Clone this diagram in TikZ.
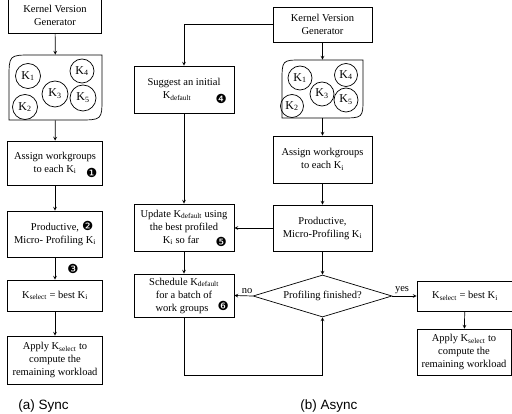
\documentclass[tikz,border=0pt]{standalone}
\usepackage{fontspec}
\setmainfont{Liberation Serif}
\setsansfont{Liberation Sans}
\newfontfamily\dingfont{DejaVu Sans}
\usetikzlibrary{shapes.geometric}

\begin{document}
\begin{tikzpicture}[
            x=1pt, y=-1pt,
            every node/.style={font=\fontsize{10.5}{13}\selectfont, align=center},
            every path/.style={line width=0.7pt},
            box/.style={draw, rectangle, inner sep=1pt},
            kcirc/.style={draw, circle, inner sep=0pt, font=\fontsize{12}{12}\selectfont},
            decide/.style={draw, diamond, aspect=3.3, inner sep=0pt, minimum width=139pt, minimum height=42pt},
            ding/.style={inner sep=0pt, font=\dingfont\fontsize{12.5}{12.5}\selectfont},
            caption/.style={font=\sffamily\fontsize{13.5}{15}\selectfont},
            flow/.style={->, >=stealth}
            ]
            \useasboundingbox (0,0) rectangle (512,414);

            % (a) Sync
            \node[box, minimum width=93pt, minimum height=36pt] (kvgA) at (55,15) {Kernel Version\\Generator};
            \node[minimum width=93pt, minimum height=65pt] (blobA) at (55.5,87.5) {};
            \draw (9,120) -- (9,79) .. controls (9,55) .. (32,55) -- (102,55)
                -- (102,98) .. controls (102,120) .. (78,120) -- cycle;
            \node[kcirc, minimum size=25pt] (ka1) at (28,76) {K\textsubscript{1}};
            \node[kcirc, minimum size=25pt] (ka2) at (25,107) {K\textsubscript{2}};
            \node[kcirc, minimum size=26pt] (ka3) at (55,94) {K\textsubscript{3}};
            \node[kcirc, minimum size=24pt] (ka4) at (82,71) {K\textsubscript{4}};
            \node[kcirc, minimum size=26pt] (ka5) at (83,98) {K\textsubscript{5}};
            \node[box, minimum width=95pt, minimum height=44pt] (assignA) at (55,163) {Assign workgroups\\to each K\textsubscript{i}};
            \node[box, minimum width=95pt, minimum height=46pt] (prodA) at (55,234) {Productive,\\Micro- Profiling K\textsubscript{i}};
            \node[box, minimum width=95pt, minimum height=31pt] (selA) at (55,295.5) {K\textsubscript{select} = best K\textsubscript{i}};
            \node[box, minimum width=95pt, minimum height=48pt] (applyA) at (55,360) {Apply K\textsubscript{select} to\\compute the\\remaining workload};
            \node[ding] (d1) at ([xshift=-11pt,yshift=12pt]assignA.south east) {❶};
            \node[ding] (d2) at ([xshift=-15pt,yshift=-15.5pt]prodA.north east) {❷};
            \node[ding] (d3) at ([xshift=18pt,yshift=-12pt]prodA.south) {❸};
            \node[caption] (capA) at (43.5,406) {(a) Sync};

            \draw[flow] (kvgA) -- (blobA);
            \draw[flow] (blobA) -- (assignA);
            \draw[flow] (assignA) -- (prodA);
            \draw[flow] (prodA) -- (selA);
            \draw[flow] (selA) -- (applyA);

            % (b) Async
            \node[box, minimum width=99pt, minimum height=35pt] (kvgB) at (322.5,24.5) {Kernel Version\\Generator};
            \node[minimum width=81pt, minimum height=58pt] (blobB) at (322.5,89) {};
            \draw (282,118) -- (282,82) .. controls (282,60) .. (302,60) -- (363,60)
                -- (363,98) .. controls (363,118) .. (341,118) -- cycle;
            \node[kcirc, minimum size=24pt] (kb1) at (300,78) {K\textsubscript{1}};
            \node[kcirc, minimum size=23pt] (kb2) at (292,106) {K\textsubscript{2}};
            \node[kcirc, minimum size=24pt] (kb3) at (322,94) {K\textsubscript{3}};
            \node[kcirc, minimum size=23pt] (kb4) at (346,75) {K\textsubscript{4}};
            \node[kcirc, minimum size=24pt] (kb5) at (346,100) {K\textsubscript{5}};
            \node[box, minimum width=99pt, minimum height=47pt] (assignB) at (322.5,159.5) {Assign workgroups\\to each K\textsubscript{i}};
            \node[box, minimum width=99pt, minimum height=46pt] (prodB) at (322.5,228) {Productive,\\Micro-Profiling K\textsubscript{i}};
            \node[decide] (done) at (322.5,296) {Profiling finished?};
            \node[box, minimum width=100pt, minimum height=47pt] (suggest) at (184,89.5) {Suggest an initial\\K\textsubscript{default}\hspace*{14pt}};
            \node[box, minimum width=100pt, minimum height=47pt] (update) at (184,227.5) {Update K\textsubscript{default} using\\the best profiled\\K\textsubscript{i} so far\hspace*{6pt}};
            \node[box, minimum width=100pt, minimum height=43pt] (sched) at (184,295.5) {Schedule K\textsubscript{default}\\for a batch of\\work groups\hspace*{4pt}};
            \node[box, minimum width=96pt, minimum height=30pt] (selB) at (465,296) {K\textsubscript{select} = best K\textsubscript{i}};
            \node[box, minimum width=94pt, minimum height=46pt] (applyB) at (464,352) {Apply K\textsubscript{select} to\\compute the\\remaining workload};
            \node[ding] (d4) at ([xshift=-13pt,yshift=14pt]suggest.south east) {❹};
            \node[ding] (d5) at ([xshift=-13pt,yshift=9pt]update.south east) {❺};
            \node[ding] (d6) at ([xshift=-11pt,yshift=11pt]sched.south east) {❻};
            \coordinate (loop) at (184,375);
            \node[caption] (capB) at (329,406) {(b) Async};

            \draw[flow] (kvgB) -- (blobB);
            \draw[flow] (kvgB.west) -| (suggest.north);
            \draw[flow] (blobB) -- (assignB);
            \draw[flow] (assignB) -- (prodB);
            \draw[flow] (prodB) -- (done);
            \draw[flow] (suggest) -- (update);
            \draw[flow] (prodB.west) -- (update.east |- prodB.west);
            \draw[flow] (update) -- (sched);
            \draw[flow] (done.west) -- node[above, pos=0.3, inner sep=2pt] {no} (sched.east);
            \draw[flow] (sched.south) -- (loop) -| (done.south);
            \draw[flow] (done.east) -- node[above, pos=0.4, inner sep=2pt] {yes} (selB.west);
            \draw[flow] (selB) -- (applyB);
        \end{tikzpicture}
\end{document}
